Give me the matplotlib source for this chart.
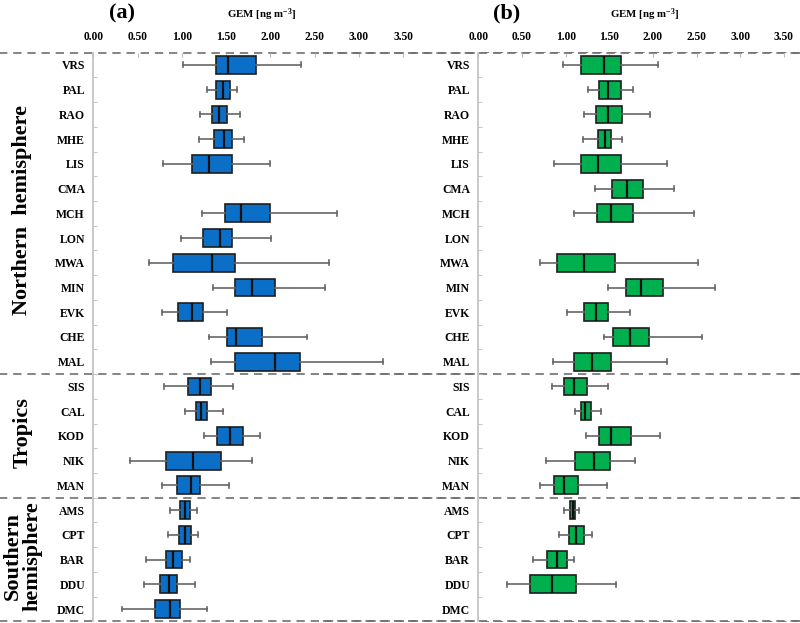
import matplotlib
matplotlib.use("Agg")
import matplotlib.pyplot as plt
import numpy as np

plt.rcParams['font.family'] = ['Liberation Serif', 'DejaVu Serif']
plt.rcParams['font.weight'] = 'bold'
plt.rcParams['mathtext.fontset'] = 'custom'
plt.rcParams['mathtext.rm'] = 'Liberation Serif:bold'
plt.rcParams['mathtext.it'] = 'Liberation Serif:bold'
plt.rcParams['mathtext.bf'] = 'Liberation Serif:bold'

stations = ['VRS', 'PAL', 'RAO', 'MHE', 'LIS', 'CMA', 'MCH', 'LON', 'MWA', 'MIN',
            'EVK', 'CHE', 'MAL', 'SIS', 'CAL', 'KOD', 'NIK', 'MAN', 'AMS', 'CPT',
            'BAR', 'DDU', 'DMC']
groups = [('Northern  hemisphere', 0, 12), ('Tropics', 13, 17), ('Southern\nhemisphere', 18, 22)]

# panel (a): whisker low, Q1, median, Q3, whisker high  (None = no data)
a_lo  = [1.01, 1.28, 1.20, 1.19, 0.79, None, 1.23, 0.99, 0.63, 1.35, 0.78, 1.31, 1.33,
         0.80, 1.04, 1.25, 0.42, 0.78, 0.87, 0.84, 0.60, 0.57, 0.32]
a_q1  = [1.39, 1.39, 1.34, 1.36, 1.11, None, 1.49, 1.24, 0.90, 1.60, 0.96, 1.51, 1.60,
         1.07, 1.16, 1.40, 0.82, 0.95, 0.98, 0.97, 0.82, 0.75, 0.70]
a_med = [1.52, 1.46, 1.42, 1.47, 1.31, None, 1.67, 1.43, 1.34, 1.79, 1.11, 1.61, 2.05,
         1.20, 1.22, 1.54, 1.13, 1.10, 1.03, 1.04, 0.90, 0.85, 0.87]
a_q3  = [1.84, 1.54, 1.51, 1.57, 1.57, None, 1.99, 1.57, 1.60, 2.05, 1.24, 1.91, 2.33,
         1.33, 1.28, 1.69, 1.44, 1.20, 1.09, 1.10, 1.00, 0.94, 0.98]
a_hi  = [2.34, 1.62, 1.66, 1.70, 1.99, None, 2.75, 2.01, 2.66, 2.62, 1.51, 2.41, 3.27,
         1.58, 1.46, 1.88, 1.79, 1.53, 1.17, 1.18, 1.09, 1.15, 1.28]

# panel (b)
b_lo  = [0.97, 1.26, 1.21, 1.20, 0.87, 1.34, 1.09, None, 0.70, 1.49, 1.01, 1.44, 0.86,
         0.84, 1.11, 1.23, 0.78, 0.71, 0.98, 0.92, 0.62, 0.33, None]
b_q1  = [1.18, 1.38, 1.35, 1.37, 1.17, 1.53, 1.36, None, 0.90, 1.69, 1.21, 1.54, 1.09,
         0.98, 1.17, 1.38, 1.11, 0.87, 1.05, 1.04, 0.79, 0.59, None]
b_med = [1.44, 1.49, 1.49, 1.45, 1.37, 1.70, 1.52, None, 1.21, 1.86, 1.35, 1.74, 1.30,
         1.10, 1.22, 1.52, 1.32, 0.98, 1.08, 1.12, 0.90, 0.84, None]
b_q3  = [1.63, 1.63, 1.65, 1.52, 1.63, 1.89, 1.77, None, 1.56, 2.11, 1.49, 1.95, 1.52,
         1.24, 1.29, 1.75, 1.51, 1.14, 1.11, 1.21, 1.01, 1.12, None]
b_hi  = [2.06, 1.77, 1.97, 1.65, 2.16, 2.24, 2.47, None, 2.52, 2.71, 1.74, 2.56, 2.16,
         1.49, 1.40, 2.08, 1.79, 1.47, 1.15, 1.30, 1.10, 1.58, None]

xticks = [0.0, 0.5, 1.0, 1.5, 2.0, 2.5, 3.0, 3.5]

fig = plt.figure(figsize=(8, 6.23), dpi=100)
ax1 = fig.add_axes([0.1166, 0.0026, 0.3931, 0.913])
ax2 = fig.add_axes([0.598, 0.0026, 0.3874, 0.913])


def draw_panel(ax, lo, q1, med, q3, hi, color, tag):
    stats = []
    pos = []
    for i in range(len(stations)):
        if med[i] is None:
            continue
        stats.append(dict(whislo=lo[i], q1=q1[i], med=med[i], q3=q3[i], whishi=hi[i], label=stations[i]))
        pos.append(i)
    ax.bxp(stats, positions=pos, orientation='horizontal', widths=0.72, capwidths=0.2,
           showfliers=False, patch_artist=True,
           boxprops=dict(facecolor=color, edgecolor='#1e1e1e', linewidth=1.2),
           medianprops=dict(color='#111111', linewidth=1.6),
           whiskerprops=dict(color='#666666', linewidth=1.2),
           capprops=dict(color='#666666', linewidth=1.2))
    ax.set_ylim(len(stations) - 0.5, -0.5)
    ax.set_xlim(0, 3.55)
    ax.set_yticks(range(len(stations)))
    ax.set_yticklabels(stations, fontsize=8.5, fontweight='bold')
    ax.set_yticks(np.arange(0.5, len(stations) - 1, 1.0), minor=True)
    ax.tick_params(axis='y', which='major', length=0, pad=6)
    ax.tick_params(axis='y', which='minor', direction='in', length=3, color='#bbbbbb')
    ax.xaxis.tick_top()
    ax.set_xticks(xticks)
    ax.set_xticklabels(['%.2f' % t for t in xticks], fontsize=8.3, fontweight='bold')
    ax.tick_params(axis='x', direction='in', length=3, color='#bbbbbb', pad=7)
    for s in ['top', 'right', 'bottom']:
        ax.spines[s].set_visible(False)
    ax.spines['left'].set_color('#c0c0c0')
    ax.spines['left'].set_linewidth(1.2)

    # group separators, dashed across the whole figure
    for y in [-0.5, 12.5, 17.5, 22.5]:
        ax.axhline(y, xmin=-0.5, xmax=3.0, clip_on=False, color='#707070',
                   linewidth=1.2, linestyle=(0, (5, 3.5)), zorder=0)

    ax.annotate('GEM [ng m$^{-3}$]', xy=(1.9, 0.976), xycoords=('data', 'figure fraction'),
                ha='center', va='center', fontsize=7.8, fontweight='bold')
    ax.annotate(tag, xy=(0.32, 0.979), xycoords=('data', 'figure fraction'),
                ha='center', va='center', fontsize=16, fontweight='bold')


draw_panel(ax1, a_lo, a_q1, a_med, a_q3, a_hi, '#0b6fc7', '(a)')
draw_panel(ax2, b_lo, b_q1, b_med, b_q3, b_hi, '#00b04f', '(b)')

for name, i0, i1 in groups:
    ax1.annotate(name, xy=(0.028, (i0 + i1) / 2 - 0.15), xycoords=('figure fraction', 'data'),
                 rotation=90, ha='center', va='center', fontsize=16, fontweight='bold',
                 linespacing=1.0)

fig.savefig('out.png', dpi=100)
